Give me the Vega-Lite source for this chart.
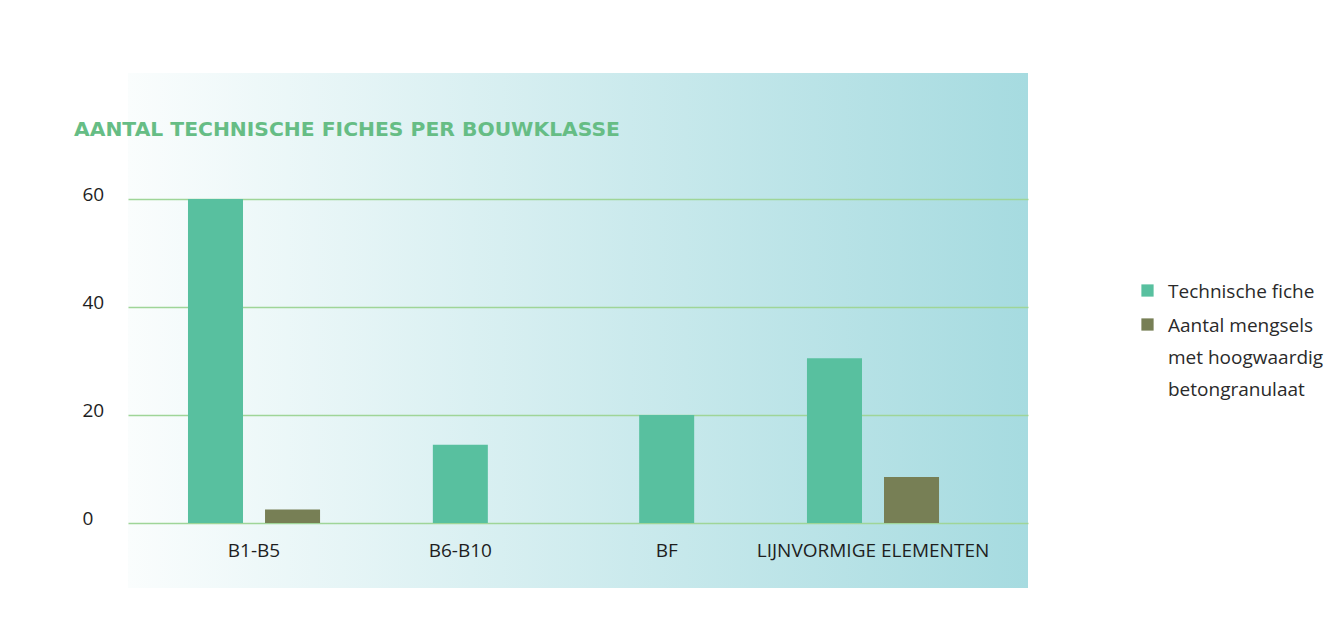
{
  "$schema": "https://vega.github.io/schema/vega-lite/v6.json",
  "width": 900,
  "height": 515,
  "autosize": {"type": "none"},
  "padding": {"left": 128, "top": 73, "right": 303, "bottom": 55},
  "background": "white",
  "config": {
    "font": "Open Sans",
    "view": {
      "stroke": null,
      "fill": {
        "gradient": "linear",
        "x1": 0, "y1": 0, "x2": 1, "y2": 0,
        "stops": [
          {"offset": 0, "color": "#fafdfd"},
          {"offset": 1, "color": "#a6dbe0"}
        ]
      }
    }
  },
  "title": {
    "text": "AANTAL TECHNISCHE FICHES PER BOUWKLASSE",
    "anchor": "start",
    "frame": "group",
    "orient": "top",
    "offset": 0,
    "baseline": "top",
    "dx": -54,
    "dy": 67,
    "color": "#66bd85",
    "font": "DejaVu Sans",
    "fontSize": 20.3,
    "fontWeight": "bold"
  },
  "data": {
    "values": [
      {"klasse": "B1-B5", "reeks": "Technische fiche", "aantal": 60},
      {"klasse": "B1-B5", "reeks": "Aantal mengsels met hoogwaardig betongranulaat", "aantal": 2.5},
      {"klasse": "B6-B10", "reeks": "Technische fiche", "aantal": 14.5},
      {"klasse": "B6-B10", "reeks": "Aantal mengsels met hoogwaardig betongranulaat", "aantal": 0},
      {"klasse": "BF", "reeks": "Technische fiche", "aantal": 20},
      {"klasse": "BF", "reeks": "Aantal mengsels met hoogwaardig betongranulaat", "aantal": 0},
      {"klasse": "LIJNVORMIGE ELEMENTEN", "reeks": "Technische fiche", "aantal": 30.5},
      {"klasse": "LIJNVORMIGE ELEMENTEN", "reeks": "Aantal mengsels met hoogwaardig betongranulaat", "aantal": 8.5}
    ]
  },
  "encoding": {
    "x": {
      "field": "klasse",
      "type": "nominal",
      "sort": ["B1-B5", "B6-B10", "BF", "LIJNVORMIGE ELEMENTEN"],
      "scale": {"paddingInner": 0, "paddingOuter": 0.181, "align": 0.306},
      "axis": {
        "title": null,
        "orient": "bottom",
        "offset": -65,
        "domain": false,
        "ticks": false,
        "labelAngle": 0,
        "labelPadding": 18,
        "labelLimit": 400,
        "labelFont": "Open Sans",
        "labelFontSize": 19,
        "labelColor": "#1e1e1e"
      }
    },
    "y": {
      "field": "aantal",
      "type": "quantitative",
      "scale": {"domain": [-12.04, 83.33], "nice": false, "zero": false},
      "axis": {
        "title": null,
        "values": [0, 20, 40, 60],
        "grid": true,
        "gridColor": "#9fd598",
        "gridWidth": 1.5,
        "domain": false,
        "ticks": false,
        "labelAlign": "left",
        "labelBaseline": "alphabetic",
        "labelOffset": 2,
        "labelPadding": 46,
        "labelFont": "Open Sans",
        "labelFontSize": 19,
        "labelColor": "#1e1e1e"
      }
    },
    "y2": {"datum": 0},
    "color": {
      "field": "reeks",
      "type": "nominal",
      "scale": {
        "domain": ["Technische fiche", "Aantal mengsels met hoogwaardig betongranulaat"],
        "range": ["#58c09f", "#777f55"]
      },
      "legend": {
        "title": null,
        "orient": "none",
        "legendX": 1010,
        "legendY": 208,
        "symbolType": "square",
        "symbolSize": 150,
        "symbolStrokeWidth": 0,
        "labelFont": "Open Sans",
        "labelFontSize": 19,
        "labelColor": "#2a2a2a",
        "labelLimit": 250,
        "labelOffset": 11,
        "labelBaseline": "alphabetic",
        "rowPadding": 13,
        "labelExpr": "datum.label == 'Technische fiche' ? datum.label : ['Aantal mengsels', 'met hoogwaardig', 'betongranulaat']",
        "encode": {
          "labels": {"update": {"lineHeight": {"value": 32}, "dy": {"value": 7}}}
        }
      }
    }
  },
  "layer": [
    {
      "transform": [
        {"filter": "datum.klasse == 'B1-B5' || datum.klasse == 'LIJNVORMIGE ELEMENTEN'"}
      ],
      "mark": {"type": "bar"},
      "encoding": {
        "xOffset": {
          "field": "reeks",
          "type": "nominal",
          "sort": ["Technische fiche", "Aantal mengsels met hoogwaardig betongranulaat"],
          "scale": {"paddingInner": 0.2857, "paddingOuter": 0.482}
        }
      }
    },
    {
      "transform": [
        {"filter": "datum.klasse == 'B6-B10' || datum.klasse == 'BF'"},
        {"filter": "datum.reeks == 'Technische fiche'"}
      ],
      "mark": {"type": "bar", "width": 55}
    }
  ]
}
